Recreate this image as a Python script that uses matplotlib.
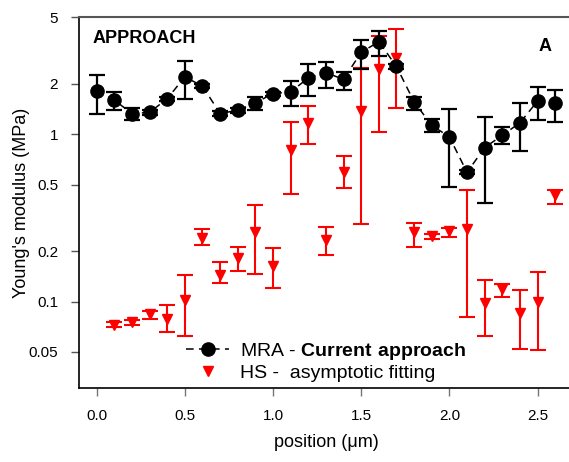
import matplotlib
matplotlib.use("Agg")
import matplotlib.pyplot as plt
from matplotlib.lines import Line2D
import numpy as np

plt.rcParams['font.family'] = ['Liberation Sans', 'DejaVu Sans']
plt.rcParams['mathtext.fontset'] = 'custom'
plt.rcParams['mathtext.rm'] = 'Liberation Sans'
plt.rcParams['mathtext.bf'] = 'Liberation Sans:bold'

# positions along the scan line (um)
position = np.round(np.arange(0, 2.65, 0.1), 1)

# MRA - current approach: value, lower and upper bounds (MPa)
mra = [1.81, 1.60, 1.33, 1.35, 1.63, 2.20, 1.94, 1.33, 1.39, 1.54,
       1.75, 1.79, 2.17, 2.33, 2.13, 3.09, 3.57, 2.54, 1.56, 1.13,
       0.963, 0.592, 0.832, 0.986, 1.17, 1.58, 1.54]
mra_lo = [1.32, 1.39, 1.22, 1.31, 1.58, 1.62, 1.88, 1.29, 1.34, 1.40,
          1.70, 1.48, 1.69, 1.90, 1.83, 2.47, 2.94, 2.47, 1.39, 1.03,
          0.484, 0.575, 0.388, 0.871, 0.795, 1.21, 1.18]
mra_hi = [2.26, 1.79, 1.44, 1.39, 1.68, 2.73, 2.00, 1.37, 1.44, 1.67,
          1.80, 2.08, 2.62, 2.70, 2.35, 3.64, 4.14, 2.62, 1.67, 1.23,
          1.42, 0.61, 1.26, 1.10, 1.53, 1.92, 1.85]

# HS - asymptotic fitting (no value at 0.0)
hs_pos = position[1:]
hs = [0.0728, 0.0752, 0.0837, 0.0787, 0.102, 0.239, 0.145, 0.182, 0.260,
      0.164, 0.802, 1.16, 0.232, 0.595, 1.38, 2.44, 2.84, 0.260, 0.245,
      0.263, 0.272, 0.0977, 0.119, 0.085, 0.099, 0.432]
hs_lo = [0.0705, 0.0728, 0.079, 0.0655, 0.0626, 0.218, 0.129, 0.153, 0.147,
         0.121, 0.441, 0.871, 0.191, 0.480, 0.292, 1.03, 1.43, 0.211, 0.238,
         0.242, 0.0804, 0.0622, 0.107, 0.0523, 0.0513, 0.381]
hs_hi = [0.0752, 0.0775, 0.088, 0.095, 0.144, 0.272, 0.172, 0.211, 0.376,
         0.209, 1.18, 1.47, 0.279, 0.738, 2.48, 3.86, 4.23, 0.294, 0.252,
         0.274, 0.466, 0.135, 0.127, 0.117, 0.150, 0.466]

fig = plt.figure(figsize=(5.69, 4.62), dpi=100)
ax = fig.add_axes([0.1388, 0.1595, 0.868, 0.8031])

mra = np.array(mra)
hs = np.array(hs)
mra_err = [mra - np.array(mra_lo), np.array(mra_hi) - mra]
hs_err = [hs - np.array(hs_lo), np.array(hs_hi) - hs]

ax.errorbar(hs_pos, hs, yerr=hs_err, fmt='v', color='red', ms=7.5,
            ecolor='red', elinewidth=1.5, capsize=6, capthick=1.5, zorder=2)
ax.errorbar(position, mra, yerr=mra_err, fmt='o', color='black', ms=9.5,
            ecolor='black', elinewidth=1.6, capsize=6, capthick=1.6, zorder=3)
ax.plot(position, mra, color='black', lw=1.1, dashes=(5, 3.5), zorder=1)

ax.set_yscale('log')
ax.set_ylim(0.0303, 5)
ax.set_xlim(-0.1, 2.7)
ax.set_yticks([0.05, 0.1, 0.2, 0.5, 1, 2, 5])
ax.set_yticklabels(['0.05', '0.1', '0.2', '0.5', '1', '2', '5'])
ax.yaxis.set_minor_locator(matplotlib.ticker.NullLocator())
ax.set_xticks([0.0, 0.5, 1.0, 1.5, 2.0, 2.5])
ax.set_xticklabels(['0.0', '0.5', '1.0', '1.5', '2.0', '2.5'])
ax.tick_params(labelsize=11, length=6, width=1, direction='out', pad=9)
ax.tick_params(axis='x', color='#777777')
ax.tick_params(axis='y', color='#555555')

ax.spines['right'].set_visible(False)
ax.spines['top'].set_color('#555555')
ax.spines['top'].set_linewidth(1.5)
ax.spines['left'].set_linewidth(1.2)
ax.spines['bottom'].set_linewidth(1.2)

ax.set_xlabel('position (\u03bcm)', fontsize=13, labelpad=8)
ax.set_ylabel("Young's modulus (MPa)", fontsize=13, labelpad=-1)

ax.text(0.028, 0.943, 'APPROACH', transform=ax.transAxes, fontsize=13,
        fontweight='bold', va='center', ha='left')
ax.text(0.943, 0.922, 'A', transform=ax.transAxes, fontsize=13,
        fontweight='bold', va='center', ha='center')

handles = [
    Line2D([], [], color='black', marker='o', ms=9.5, lw=1.1, dashes=(5, 3.5)),
    Line2D([], [], color='red', marker='v', ms=7.5, lw=0),
]
labels = [r'MRA - $\mathbf{Current\ approach}$', 'HS -  asymptotic fitting']
ax.legend(handles, labels, loc='center', bbox_to_anchor=(0.5, 0.073),
          frameon=False, fontsize=14, handlelength=2.2, handletextpad=0.55,
          labelspacing=0.1, borderpad=0)

fig.savefig('out.png', dpi=100)
